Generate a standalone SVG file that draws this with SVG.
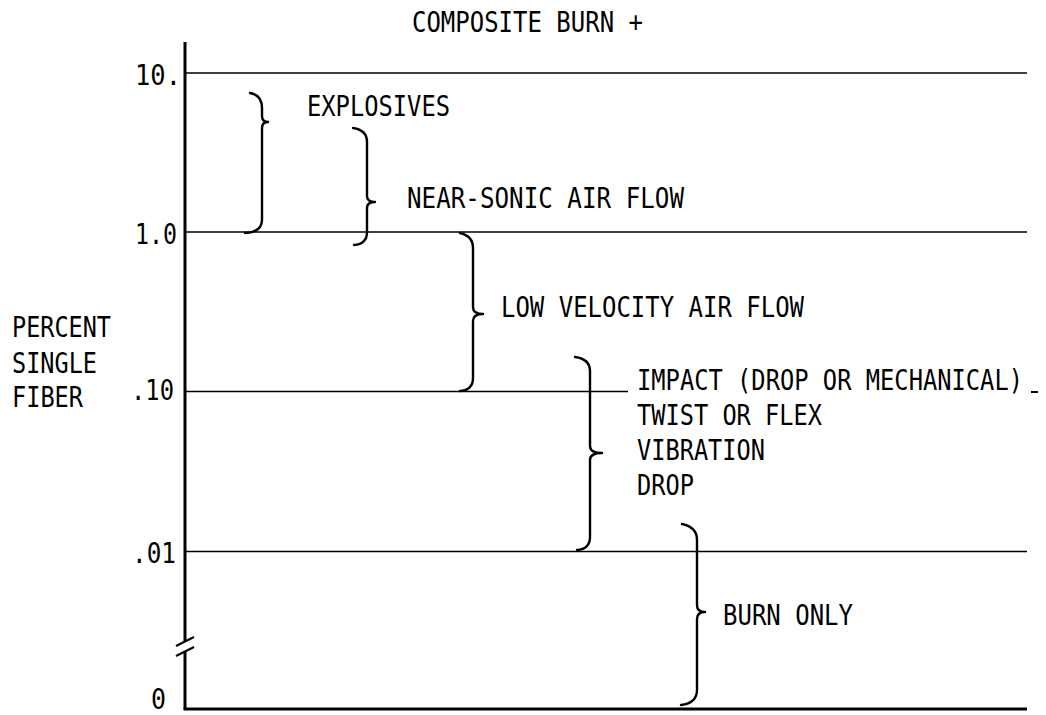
<svg xmlns="http://www.w3.org/2000/svg" width="1046" height="715" viewBox="0 0 1046 715">
<style>
  text { font-family: "DejaVu Sans Mono", "Liberation Mono", monospace; font-size: 24px; fill: #000; }
  .grid { stroke: #000; stroke-width: 1.5; fill: none; }
  .axis { stroke: #000; stroke-width: 3; fill: none; }
  .brace { stroke: #000; stroke-width: 2.4; fill: none; stroke-linecap: round; stroke-linejoin: round; }
</style>
<rect width="1046" height="715" fill="#fff"/>
<g id="axes">
  <line class="axis" x1="185" y1="42" x2="185" y2="641"/>
  <line class="axis" x1="185" y1="651" x2="185" y2="709"/>
  <line class="axis" x1="183.5" y1="709" x2="1027" y2="709"/>
  <line stroke="#000" stroke-width="2" x1="176" y1="646" x2="194" y2="637"/>
  <line stroke="#000" stroke-width="2" x1="176" y1="656" x2="194" y2="647"/>
  <line class="grid" x1="185" y1="73" x2="1027" y2="73"/>
  <line class="grid" x1="185" y1="232" x2="1027" y2="232"/>
  <line class="grid" x1="185" y1="391.5" x2="628" y2="391.5"/>
  <line class="grid" x1="185" y1="551.5" x2="1027" y2="551.5"/>
</g>
<g id="title"><text transform="translate(412,32) scale(1,1.15)" textLength="231" lengthAdjust="spacingAndGlyphs">COMPOSITE BURN +</text></g>
<g id="y-axis-label">
  <text transform="translate(12,337) scale(1,1.15)" textLength="99" lengthAdjust="spacingAndGlyphs">PERCENT</text>
  <text transform="translate(12,373) scale(1,1.15)" textLength="85" lengthAdjust="spacingAndGlyphs">SINGLE</text>
  <text transform="translate(12,407) scale(1,1.15)" textLength="71" lengthAdjust="spacingAndGlyphs">FIBER</text>
</g>
<g id="ticks">
  <text transform="translate(135,85) scale(1,1.15)" textLength="46" lengthAdjust="spacingAndGlyphs">10.</text>
  <text transform="translate(135,244) scale(1,1.15)" textLength="42" lengthAdjust="spacingAndGlyphs">1.0</text>
  <text transform="translate(131,400) scale(1,1.15)" textLength="43" lengthAdjust="spacingAndGlyphs">.10</text>
  <text transform="translate(132,563) scale(1,1.15)" textLength="44" lengthAdjust="spacingAndGlyphs">.01</text>
  <text transform="translate(151,709) scale(1,1.15)" textLength="15" lengthAdjust="spacingAndGlyphs">0</text>
</g>
<g id="connectors">
  <path class="brace" d="M250,93 Q262,95 262,108 L262,116 Q262,122 268,122 Q262,122 262,128 L262,220 Q262,232 245,233"/>
  <path class="brace" d="M353,128 Q367,130 367,142 L367,196 Q367,202 375,202 Q367,202 367,208 L367,232 Q367,244 354,245"/>
  <path class="brace" d="M460,233 Q473,236 473,248 L473,307 Q473,314 483,314 Q473,314 473,321 L473,378 Q473,390 460,391"/>
  <path class="brace" d="M575,357 Q590,359 590,371 L590,446 Q590,453 602,453 Q590,453 590,460 L590,537 Q590,549 577,550"/>
  <path class="brace" d="M682,524 Q697,527 697,540 L697,605 Q697,612 705,612 Q697,612 697,619 L697,690 Q697,703 681,705"/>
</g>
<g id="explosives"><text transform="translate(307,116) scale(1,1.15)" textLength="143" lengthAdjust="spacingAndGlyphs">EXPLOSIVES</text></g>
<g id="near-sonic"><text transform="translate(407,208) scale(1,1.15)" textLength="277" lengthAdjust="spacingAndGlyphs">NEAR-SONIC AIR FLOW</text></g>
<g id="low-velocity"><text transform="translate(501,317) scale(1,1.15)" textLength="303" lengthAdjust="spacingAndGlyphs">LOW VELOCITY AIR FLOW</text></g>
<g id="impact-group">
  <text transform="translate(637,390) scale(1,1.15)" textLength="386" lengthAdjust="spacingAndGlyphs">IMPACT (DROP OR MECHANICAL)</text>
  <line stroke="#000" stroke-width="2" x1="1031" y1="392" x2="1038" y2="392"/>
  <text transform="translate(637,425) scale(1,1.15)" textLength="185" lengthAdjust="spacingAndGlyphs">TWIST OR FLEX</text>
  <text transform="translate(637,460) scale(1,1.15)" textLength="128" lengthAdjust="spacingAndGlyphs">VIBRATION</text>
  <text transform="translate(637,495) scale(1,1.15)" textLength="57" lengthAdjust="spacingAndGlyphs">DROP</text>
</g>
<g id="burn-only"><text transform="translate(723,625) scale(1,1.15)" textLength="130" lengthAdjust="spacingAndGlyphs">BURN ONLY</text></g>
</svg>
